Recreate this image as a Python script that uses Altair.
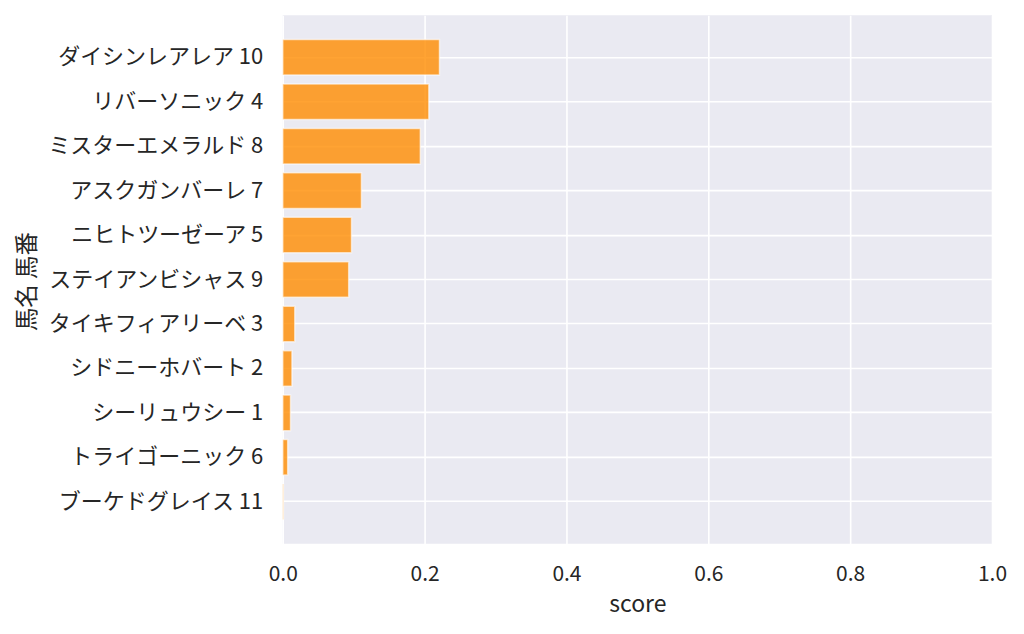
import altair as alt
import pandas as pd

horses = [
    "ダイシンレアレア 10",
    "リバーソニック 4",
    "ミスターエメラルド 8",
    "アスクガンバーレ 7",
    "ニヒトツーゼーア 5",
    "ステイアンビシャス 9",
    "タイキフィアリーベ 3",
    "シドニーホバート 2",
    "シーリュウシー 1",
    "トライゴーニック 6",
    "ブーケドグレイス 11",
]
scores = [0.221, 0.206, 0.194, 0.111, 0.097, 0.093, 0.017, 0.013, 0.011, 0.007, 0.001]
x_ticks = [0.0, 0.2, 0.4, 0.6, 0.8, 1.0]

df = pd.DataFrame({"horse": horses, "score": scores})

FONT = "Noto Sans CJK JP"
TEXT = "#262626"

chart = (
    alt.Chart(df)
    .mark_bar(
        fill="#ff8c00",
        fillOpacity=0.8,
        stroke="white",
        strokeOpacity=0.6,
        strokeWidth=1.5,
    )
    .encode(
        x=alt.X(
            "score:Q",
            scale=alt.Scale(domain=[0, 1], nice=False, zero=True),
            axis=alt.Axis(
                values=x_ticks,
                format=".1f",
                title="score",
                grid=True,
                gridColor="white",
                gridWidth=1.6,
                domain=False,
                ticks=False,
                labelFlush=False,
                labelFontSize=21,
                labelPadding=20,
                labelColor=TEXT,
                labelFont=FONT,
                titleFont=FONT,
                titleFontSize=23,
                titleFontWeight="normal",
                titleColor=TEXT,
                titlePadding=9,
            ),
        ),
        y=alt.Y(
            "horse:N",
            sort=horses,
            scale=alt.Scale(paddingInner=0.2, paddingOuter=0.545),
            axis=alt.Axis(
                title="馬名 馬番",
                bandPosition=0.5,
                grid=True,
                gridColor="white",
                gridWidth=1.6,
                domain=False,
                ticks=False,
                labelFontSize=22,
                labelLimit=400,
                labelPadding=20,
                labelColor=TEXT,
                labelFont=FONT,
                titleFont=FONT,
                titleFontSize=23.5,
                titleFontWeight="normal",
                titleColor=TEXT,
                titleX=-255,
                titleY=266,
                titleAngle=270,
                titleAlign="center",
                titleBaseline="middle",
            ),
        ),
    )
    .properties(
        width=710,
        height=529,
        autosize=alt.AutoSizeParams(type="none"),
        padding={"left": 275, "top": 7, "right": 24, "bottom": 80},
    )
    .configure_view(fill="#eaeaf2", stroke=None)
)

chart.save("out.html", embed_options={"renderer": "svg", "actions": False})
